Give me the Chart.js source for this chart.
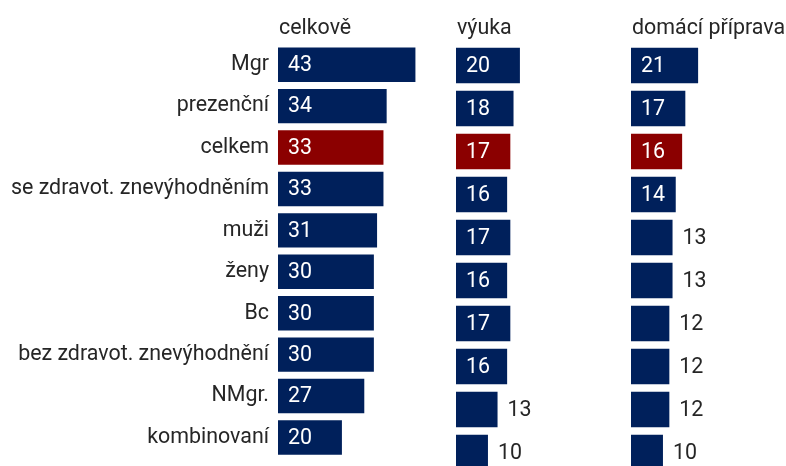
<!DOCTYPE html>
<html lang="cs">
<head>
<meta charset="utf-8">
<script src="https://cdn.jsdelivr.net/npm/chart.js@4"></script>
<style>
    html, body { margin: 0; padding: 0; background: #fff; overflow: hidden; }
    #wrap { position: relative; width: 786px; height: 466px; overflow: hidden; }
    #wrap canvas { position: absolute; top: 0; }
</style>
</head>
<body>
<div id="wrap">
    <canvas id="chartTotal" width="433" height="480" style="left:0"></canvas>
    <canvas id="chartTeaching" width="155" height="480" style="left:456px"></canvas>
    <canvas id="chartHome" width="155" height="480" style="left:631px"></canvas>
</div>
<script>
// Data

const categories = ['Mgr', 'prezenční', 'celkem', 'se zdravot. znevýhodněním', 'muži', 'ženy', 'Bc', 'bez zdravot. znevýhodnění', 'NMgr.', 'kombinovaní'];
const panelTitles = ['celkově', 'výuka', 'domácí příprava'];
const totalValues = [43, 34, 33, 33, 31, 30, 30, 30, 27, 20];
const teachingValues = [20, 18, 17, 16, 17, 16, 17, 16, 13, 10];
const homeValues = [21, 17, 16, 14, 13, 13, 12, 12, 12, 10];
const highlightCategory = 'celkem';

const NAVY = '#00205b';
const RED = '#8b0000';
const TEXT = '#262626';
const X_MAX = 48.5;
const INSIDE_MIN = 14;
const FONT_SIZE = 21.4;
const FONT = `${FONT_SIZE}px Roboto, "Open Sans", sans-serif`;

Chart.defaults.font.family = 'Roboto, "Open Sans", sans-serif';
Chart.defaults.font.size = FONT_SIZE;
Chart.defaults.color = TEXT;

// Value labels + panel title, drawn after the bars
const barLabelsPlugin = {
    id: 'barLabels',
    afterDatasetsDraw: (chart, args, opts) => {
        const { ctx, chartArea } = chart;
        const meta = chart.getDatasetMeta(0);
        const values = chart.data.datasets[0].data;

        ctx.save();
        ctx.font = FONT;
        ctx.textBaseline = 'middle';
        ctx.textAlign = 'left';
        meta.data.forEach((bar, i) => {
            const value = values[i];
            if (value >= INSIDE_MIN) {
                ctx.fillStyle = '#ffffff';
                ctx.fillText(value, bar.base + 10, bar.y + 1);
            } else {
                ctx.fillStyle = TEXT;
                ctx.fillText(value, bar.x + 10, bar.y + 1);
            }
        });

        ctx.fillStyle = TEXT;
        ctx.textBaseline = 'alphabetic';
        ctx.fillText(opts.title, chartArea.left + 1, 33.5);
        ctx.restore();
    }
};

const createPanel = (canvasId, values, title, showLabels) => {
    const el = document.getElementById(canvasId);
    if (!el) return;

    return new Chart(el.getContext('2d'), {
        type: 'bar',
        data: {
            labels: categories,
            datasets: [{
                data: values,
                backgroundColor: categories.map(c => c === highlightCategory ? RED : NAVY),
                borderWidth: 0,
                categoryPercentage: 1,
                barPercentage: 0.83
            }]
        },
        options: {
            indexAxis: 'y',
            responsive: false,
            animation: false,
            layout: { padding: { top: 44, bottom: 6, left: 0, right: 0 } },
            scales: {
                x: {
                    display: false,
                    min: 0,
                    max: X_MAX
                },
                y: {
                    display: showLabels,
                    grid: { display: false, drawTicks: false },
                    border: { display: false },
                    ticks: { padding: 9, color: TEXT, font: { size: FONT_SIZE } },
                    afterFit: (scale) => { if (showLabels) scale.width = 278; }
                }
            },
            plugins: {
                legend: { display: false },
                tooltip: { enabled: false },
                barLabels: { title }
            }
        },
        plugins: [barLabelsPlugin]
    });
};

createPanel('chartTotal', totalValues, panelTitles[0], true);
createPanel('chartTeaching', teachingValues, panelTitles[1], false);
createPanel('chartHome', homeValues, panelTitles[2], false);
</script>
</body>
</html>
